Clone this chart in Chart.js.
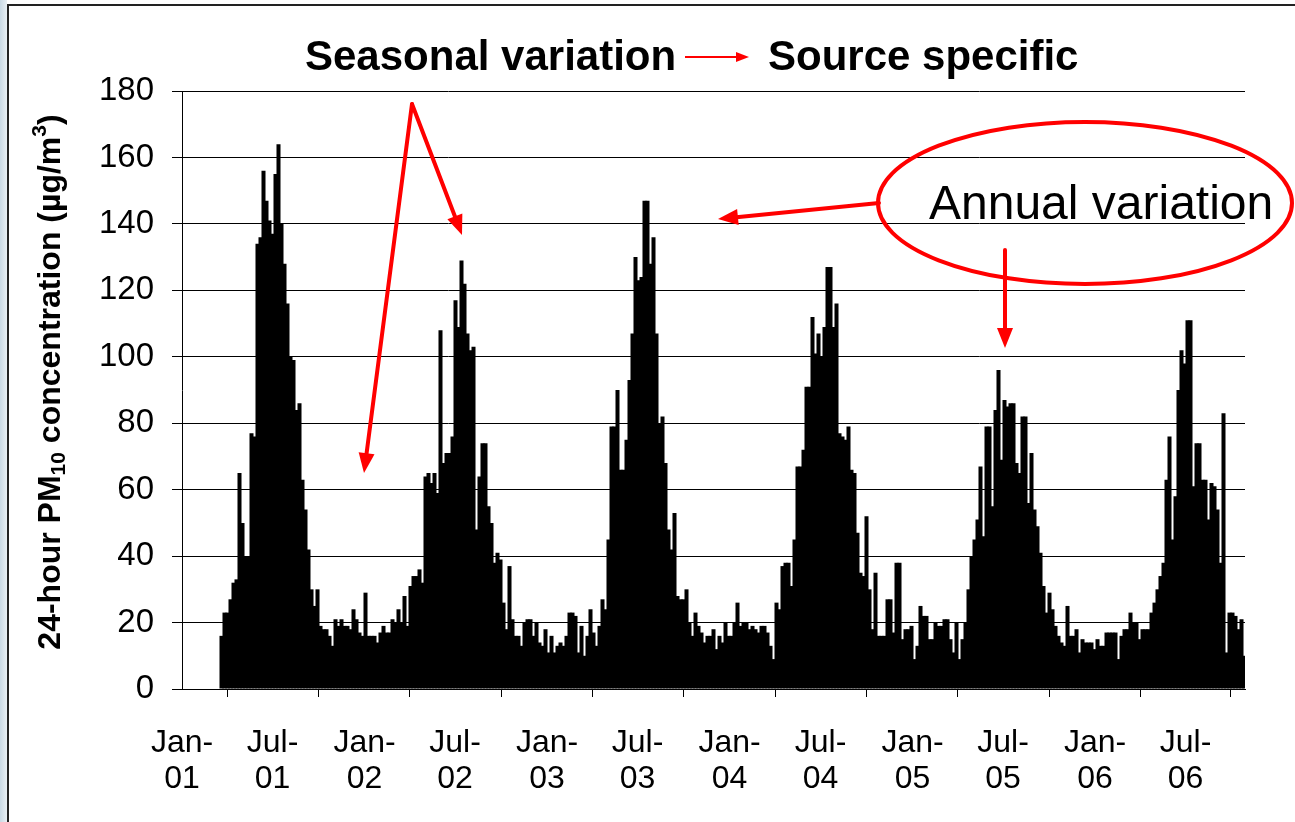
<!DOCTYPE html>
<html>
<head>
<meta charset="utf-8">
<script src="https://cdn.jsdelivr.net/npm/chart.js@4/dist/chart.umd.min.js"></script>
<style>
  html, body { margin: 0; padding: 0; background: #fff; overflow: hidden; }
  #wrap { position: relative; width: 1295px; height: 822px; }
  canvas { display: block; }
</style>
</head>
<body>
<div id="wrap"><canvas id="chart" width="1295" height="822"></canvas></div>
<script>
// Daily PM10 samples, one every 6 days, starting 20 Mar 2001 (day 79 of 2001)
const FIRST_DAY = 79;
const STEP_DAYS = 6;

const pm2001 = [16,23,23,27,32,33,65,50,40,40, 77,76,134,136,156,147,141,137,155,164,
  140,128,116,100,99,84,86,63,54,42, 30,25,30,19,18,18,16,13,21,19, 21,19,19,18,24,21,17,16];
const pm2002 = [29,16,16,16,14,17,19,17,17,21, 20,24,20,28,19,31,34,34,36,32,
  64,65,62,65,59,108,68,71,71,76, 117,109,129,122,107,102,103,48,64,74,
  74,55,50,38,41,39,26,18,37,21, 16,16,13,20,21,21,16,20,14,13, 18];
const pm2003 = [11,16,11,13,14,13,16,23,23,22, 11,19,10,16,24,17,13,19,27,24,
  45,79,79,90,66,66,75,93,107,130, 123,124,147,147,128,136,107,80,82,68,
  48,42,53,28,27,27,30,20,16,23, 19,17,14,16,16,18,12,16,14,20, 16];
const pm2004 = [16,20,26,19,20,20,18,19,18,17, 19,19,17,13,9,26,24,37,38,38,
  31,45,67,67,72,91,91,112,101,107, 100,109,127,127,109,116,77,76,75,79,
  66,65,47,35,34,52,30,18,35,16, 16,16,27,27,17,38,38,15,18,18, 19];
const pm2005 = [9,13,25,22,22,15,15,20,19,19, 21,21,15,11,20,9,15,20,30,40,
  45,51,67,46,79,79,55,84,96,69, 87,85,86,86,68,65,82,82,56,71,
  54,49,41,31,23,29,24,19,16,14, 13,25,16,16,18,11,15,14,14,14, 12];
const pm2006 = [15,13,13,17,17,17,17,9,16,18, 18,23,20,20,15,18,18,18,23,26,
  30,34,38,63,76,45,58,90,102,98, 111,111,61,74,74,63,63,51,62,61,
  54,38,83,11,23,23,22,18,21,10];

// Axis ticks: day offsets from 1 Jan 2001 and their labels
const tickDays   = [0, 181, 365, 546, 730, 911, 1095, 1277, 1461, 1642, 1826, 2007];
const tickLabels = [["Jan-","01"],["Jul-","01"],["Jan-","02"],["Jul-","02"],["Jan-","03"],["Jul-","03"],
                    ["Jan-","04"],["Jul-","04"],["Jan-","05"],["Jul-","05"],["Jan-","06"],["Jul-","06"]];
const yTicks = [0, 20, 40, 60, 80, 100, 120, 140, 160, 180];

const allValues = [].concat(pm2001, pm2002, pm2003, pm2004, pm2005, pm2006);
const points = allValues.map((v, i) => ({ x: FIRST_DAY + STEP_DAYS * i, y: v }));

const FONT = '"Liberation Sans", Arial, sans-serif';
const RED = '#ff0000';

function arrowHead(ctx, x1, y1, x2, y2, len, half) {
  const a = Math.atan2(y2 - y1, x2 - x1);
  ctx.beginPath();
  ctx.moveTo(x2, y2);
  ctx.lineTo(x2 - len * Math.cos(a) + half * Math.sin(a), y2 - len * Math.sin(a) - half * Math.cos(a));
  ctx.lineTo(x2 - len * Math.cos(a) - half * Math.sin(a), y2 - len * Math.sin(a) + half * Math.cos(a));
  ctx.closePath();
  ctx.fill();
}
function arrow(ctx, x1, y1, x2, y2, width, len, half) {
  const a = Math.atan2(y2 - y1, x2 - x1);
  ctx.lineWidth = width;
  ctx.beginPath();
  ctx.moveTo(x1, y1);
  ctx.lineTo(x2 - (len * 0.8) * Math.cos(a), y2 - (len * 0.8) * Math.sin(a));
  ctx.stroke();
  arrowHead(ctx, x1, y1, x2, y2, len, half);
}

const decor = {
  id: 'decor',
  beforeDraw(chart) {
    const ctx = chart.ctx;
    ctx.save();
    ctx.fillStyle = '#ffffff';
    ctx.fillRect(0, 0, chart.width, chart.height);
    // slide background strip at the left edge
    const g = ctx.createLinearGradient(0, 0, 8, 0);
    g.addColorStop(0, '#c9d9e4');
    g.addColorStop(1, '#eef3f6');
    ctx.fillStyle = g;
    ctx.fillRect(0, 0, 7, chart.height);
    // chart frame
    ctx.strokeStyle = '#222';
    ctx.lineWidth = 2;
    ctx.beginPath();
    ctx.moveTo(8, chart.height);
    ctx.lineTo(8, 5);
    ctx.lineTo(chart.width, 5);
    ctx.stroke();
    ctx.restore();
  },
  afterDraw(chart) {
    const ctx = chart.ctx;
    ctx.save();
    // title
    ctx.fillStyle = '#000';
    ctx.font = 'bold 42px ' + FONT;
    ctx.textBaseline = 'alphabetic';
    ctx.textAlign = 'left';
    ctx.fillText('Seasonal variation', 305, 70);
    ctx.fillText('Source specific', 768, 70);
    ctx.strokeStyle = RED; ctx.fillStyle = RED;
    arrow(ctx, 685, 57, 749, 57, 2, 13, 5);

    // y-axis title with subscript and superscript
    const parts = [
      { t: '24-hour PM', s: 32, dy: 0 },
      { t: '10', s: 21, dy: 8 },
      { t: ' concentration (\u00b5g/m', s: 32, dy: 0 },
      { t: '3', s: 21, dy: -11 },
      { t: ')', s: 32, dy: 0 }
    ];
    ctx.translate(51, 382);
    ctx.rotate(-Math.PI / 2);
    ctx.fillStyle = '#000';
    ctx.textBaseline = 'middle';
    let total = 0;
    parts.forEach(p => { ctx.font = 'bold ' + p.s + 'px ' + FONT; p.w = ctx.measureText(p.t).width; total += p.w; });
    let x = -total / 2;
    parts.forEach(p => { ctx.font = 'bold ' + p.s + 'px ' + FONT; ctx.fillText(p.t, x, p.dy); x += p.w; });
    ctx.restore();

    // annotations
    ctx.save();
    ctx.strokeStyle = RED; ctx.fillStyle = RED;
    ctx.lineCap = 'round';
    arrow(ctx, 412, 104, 462, 235, 4, 20, 8);
    arrow(ctx, 412, 104, 364, 473, 4, 20, 8);
    ctx.lineWidth = 4;
    ctx.beginPath();
    ctx.ellipse(1085, 203, 207, 81, 0, 0, Math.PI * 2);
    ctx.stroke();
    arrow(ctx, 879, 203, 718, 219, 4, 20, 8);
    arrow(ctx, 1005, 250, 1005, 348, 4, 20, 8);
    ctx.fillStyle = '#000';
    ctx.font = '48px ' + FONT;
    ctx.textBaseline = 'alphabetic';
    ctx.fillText('Annual variation', 929, 219);
    ctx.restore();
  }
};

new Chart(document.getElementById('chart'), {
  type: 'bar',
  data: {
    datasets: [{
      data: points,
      backgroundColor: '#000',
      borderWidth: 0,
      barPercentage: 1.34,
      categoryPercentage: 1
    }]
  },
  options: {
    responsive: false,
    animation: false,
    devicePixelRatio: 1,
    layout: { padding: { top: 91, right: 50, left: 0, bottom: 0 } },
    plugins: { legend: { display: false }, tooltip: { enabled: false }, title: { display: false } },
    scales: {
      x: {
        type: 'linear',
        offset: false,
        min: 0,
        max: 2126,
        afterBuildTicks(scale) { scale.ticks = tickDays.map(v => ({ value: v })); },
        afterFit(scale) { scale.height = 133; },
        ticks: {
          autoSkip: false,
          maxRotation: 0,
          padding: 29,
          color: '#000',
          font: { family: FONT, size: 32, lineHeight: 1.1 },
          callback(value) { const k = tickDays.indexOf(value); return k >= 0 ? tickLabels[k] : ''; }
        },
        grid: { drawOnChartArea: false, drawTicks: true, tickLength: 8, color: '#000', lineWidth: 1 },
        border: { display: true, color: '#000', width: 1 }
      },
      y: {
        min: 0,
        max: 180,
        afterBuildTicks(scale) { scale.ticks = yTicks.map(v => ({ value: v })); },
        afterFit(scale) { scale.width = 182; },
        ticks: {
          padding: 18,
          color: '#000',
          font: { family: FONT, size: 33 }
        },
        grid: { color: '#000', lineWidth: 1, tickLength: 10 },
        border: { display: true, color: '#000', width: 1 }
      }
    }
  },
  plugins: [decor]
});
</script>
</body>
</html>
